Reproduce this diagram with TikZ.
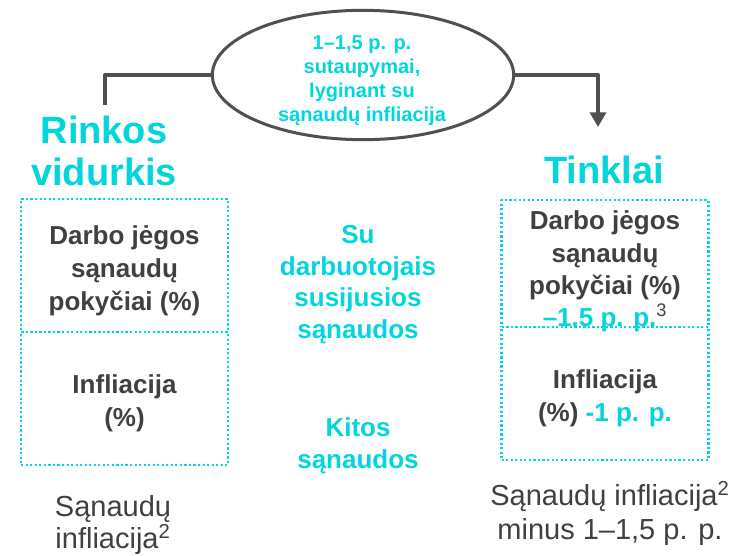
\documentclass[tikz,border=0pt]{standalone}
\usepackage{fontspec}
\setmainfont{Liberation Sans}
\usetikzlibrary{shapes.geometric,arrows.meta}
\definecolor{turk}{RGB}{0,214,220}
\definecolor{tamsi}{RGB}{64,64,64}
\definecolor{linija}{RGB}{80,80,80}
\begin{document}
\begin{tikzpicture}[x=0.75pt,y=-0.75pt,>={Triangle[width=12pt,length=11pt]},
    line join=round,
    antr/.style={text=turk,font=\bfseries\fontsize{28.5}{31.5}\selectfont,align=center,inner sep=0pt},
    langas/.style={draw=turk,line width=1.8pt,dash pattern=on 1.6pt off 1.8pt,
        minimum width=155pt,inner sep=0pt},
    ltekstas/.style={align=center,text=tamsi,inner sep=0pt,
        font=\bfseries\fontsize{19.5}{24.5}\selectfont},
    vidurys/.style={text=turk,font=\bfseries\fontsize{19.5}{23.7}\selectfont,align=center,inner sep=0pt},
    apacia/.style={text=tamsi,font=\fontsize{21.75}{23.5}\selectfont,align=center,inner sep=0pt}]
    \useasboundingbox (0,0) rectangle (740,556);
    \node[ellipse,draw=linija,line width=2.25pt,minimum width=226pt,minimum height=97pt] (elipse) at (363,75) {};
    \node[text=turk,font=\bfseries\fontsize{15}{18}\selectfont,align=center,inner sep=0pt] (sutaupymai) at (362,81)
        {1–1,5 p. p.\\sutaupymai,\\lyginant su\\sąnaudų infliacija};
    \coordinate (kaire) at (105,105);
    \coordinate (desine) at (598,127);
    \draw[linija,line width=2.5pt] (elipse.west) -| (kaire);
    \draw[linija,line width=2.5pt,->] (elipse.east) -| (desine);
    \node[antr] (rinkos) at (104,151) {Rinkos\\vidurkis};
    \node[antr] (tinklai) at (604,170) {Tinklai};
    \node[langas,minimum height=99.75pt] (rdarbo) at (124.5,265.5) {};
    \node[langas,minimum height=99.75pt] (rinfl) at (124.5,398.5) {};
    \node[langas,minimum height=95.25pt] (tdarbo) at (605,263.5) {};
    \node[langas,minimum height=99.75pt] (tinfl) at (605,393.5) {};
    \node[ltekstas] (rdarbot) at ([yshift=-4pt]rdarbo.center) {Darbo jėgos\\sąnaudų\\pokyčiai (\%)};
    \node[ltekstas] (rinflt) at ([yshift=-3.5pt]rinfl.center) {Infliacija\\(\%)};
    \node[ltekstas,font=\bfseries\fontsize{19.5}{24.2}\selectfont] (tdarbot) at ([yshift=-6pt]tdarbo.center)
        {Darbo jėgos\\sąnaudų\\pokyčiai (\%)\\\textcolor{turk}{–1.5 p. p.}\textsuperscript{\mdseries 3}};
    \node[ltekstas] (tinflt) at ([yshift=-3.75pt]tinfl.center) {Infliacija\\(\%) \textcolor{turk}{-1 p. p.}};
    \node[vidurys] (darbuot) at (358,284.5) {Su\\darbuotojais\\susijusios\\sąnaudos};
    \node[vidurys] (kitos) at (358,445.5) {Kitos\\sąnaudos};
    \node[apacia] (rinfliacija) at (113,525) {Sąnaudų\\infliacija\textsuperscript{2}};
    \node[apacia,font=\fontsize{21.75}{25.5}\selectfont] (tinfliacija) at (610,513) {Sąnaudų infliacija\textsuperscript{2}\\minus 1–1,5 p. p.};
\end{tikzpicture}
\end{document}
